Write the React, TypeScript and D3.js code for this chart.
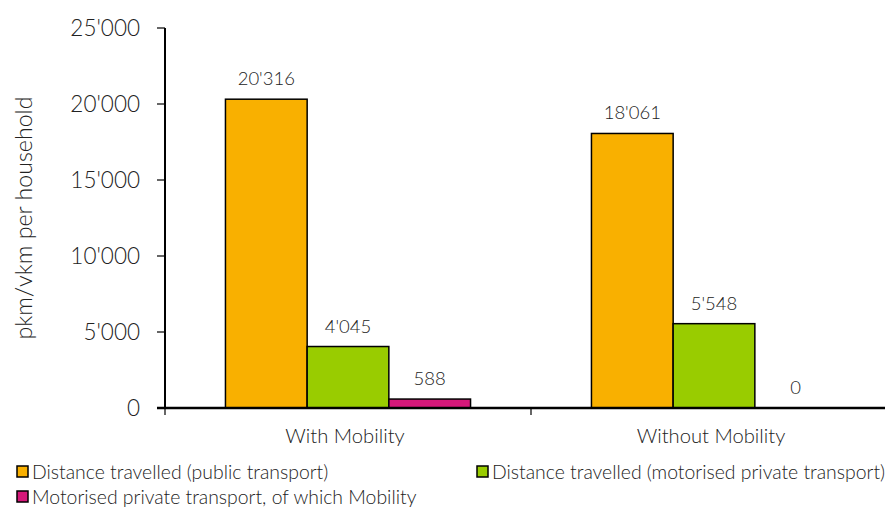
import React from "react";
import * as d3 from "d3";

const categories = ["With Mobility", "Without Mobility"];
const seriesNames = [
  "Distance travelled (public transport)",
  "Distance travelled (motorised private transport)",
  "Motorised private transport, of which Mobility",
];
const publicTransport = [20316, 18061];
const privateTransport = [4045, 5548];
const mobilityShare = [588, 0];
const yTicks = [0, 5000, 10000, 15000, 20000, 25000];
const colors = ["#F9B000", "#99CC00", "#D6187A"];

const width = 885;
const height = 507;
const margin = { top: 28, right: -12, bottom: 99, left: 165 };
const font = "Lato, 'Open Sans', sans-serif";
const weight = 300;
const textColor = "#222";

const fmt = d3
  .formatLocale({ decimal: ".", thousands: "'", grouping: [3], currency: ["", ""] })
  .format(",");

const App = () => {
  const series = [publicTransport, privateTransport, mobilityShare];

  const x0 = d3
    .scaleBand()
    .domain(categories)
    .range([margin.left, width - margin.right]);
  const x1 = d3
    .scaleBand()
    .domain(seriesNames)
    .range([0, x0.bandwidth()])
    .paddingOuter(0.74);
  const y = d3
    .scaleLinear()
    .domain([0, 25000])
    .range([height - margin.bottom, margin.top]);

  const y0 = y(0);

  return (
    <svg width={width} height={height} style={{ position: "absolute", left: 0, top: 0 }}>
      <rect width={width} height={height} fill="#fff" />
      {/* bars */}
      {categories.map((c, ci) => (
        <g key={c}>
          {seriesNames.map((s, si) => {
            const v = series[si][ci];
            const bx = x0(c)! + x1(s)!;
            return (
              <g key={s}>
                {v > 0 && (
                  <rect
                    x={bx}
                    y={y(v)}
                    width={x1.bandwidth()}
                    height={y0 - y(v)}
                    fill={colors[si]}
                    stroke="#000"
                    strokeWidth={1.5}
                  />
                )}
                <text
                  x={bx + x1.bandwidth() / 2}
                  y={y(v) - 14}
                  textAnchor="middle"
                  fontFamily={font}
                  fontWeight={weight}
                  fontSize={18.5}
                  fill={textColor}
                >
                  {fmt(v)}
                </text>
              </g>
            );
          })}
        </g>
      ))}
      {/* y axis */}
      <line x1={margin.left} x2={margin.left} y1={y(25000)} y2={y0 + 1} stroke="#000" strokeWidth={2} />
      {yTicks.map((t) => (
        <g key={t}>
          <line x1={margin.left - 8} x2={margin.left} y1={y(t)} y2={y(t)} stroke="#000" strokeWidth={1.2} />
          <text
            x={margin.left - 25}
            y={y(t)}
            dy="0.35em"
            textAnchor="end"
            fontFamily={font}
            fontWeight={weight}
            fontSize={22.5}
            fill={textColor}
          >
            {fmt(t)}
          </text>
        </g>
      ))}
      <text
        transform={`translate(32, ${(y(25000) + y0) / 2}) rotate(-90)`}
        textAnchor="middle"
        fontFamily={font}
        fontWeight={weight}
        fontSize={23.2}
        fill={textColor}
      >
        pkm/vkm per household
      </text>
      {/* x axis */}
      <line x1={margin.left - 8} x2={width} y1={y0} y2={y0} stroke="#000" strokeWidth={2.5} />
      {categories.map((c) => (
        <line key={c} x1={x0(c)!} x2={x0(c)!} y1={y0} y2={y0 + 7} stroke="#000" strokeWidth={1.2} />
      ))}
      {categories.map((c) => (
        <text
          key={c}
          x={x0(c)! + x0.bandwidth() / 2 - 3}
          y={y0 + 35}
          textAnchor="middle"
          fontFamily={font}
          fontWeight={weight}
          fontSize={20.2}
          fill={textColor}
        >
          {c}
        </text>
      ))}
      {/* legend */}
      {seriesNames.map((s, i) => {
        const lx = i === 1 ? 477 : 17;
        const ly = i === 2 ? 497 : 472;
        return (
          <g key={s}>
            <rect x={lx} y={ly - 6} width={11} height={11} fill={colors[i]} stroke="#000" strokeWidth={1.5} />
            <text x={lx + 15} y={ly} dy="0.35em" fontFamily={font} fontWeight={weight} fontSize={19.4} fill={textColor}>
              {s}
            </text>
          </g>
        );
      })}
    </svg>
  );
};

export default App;
